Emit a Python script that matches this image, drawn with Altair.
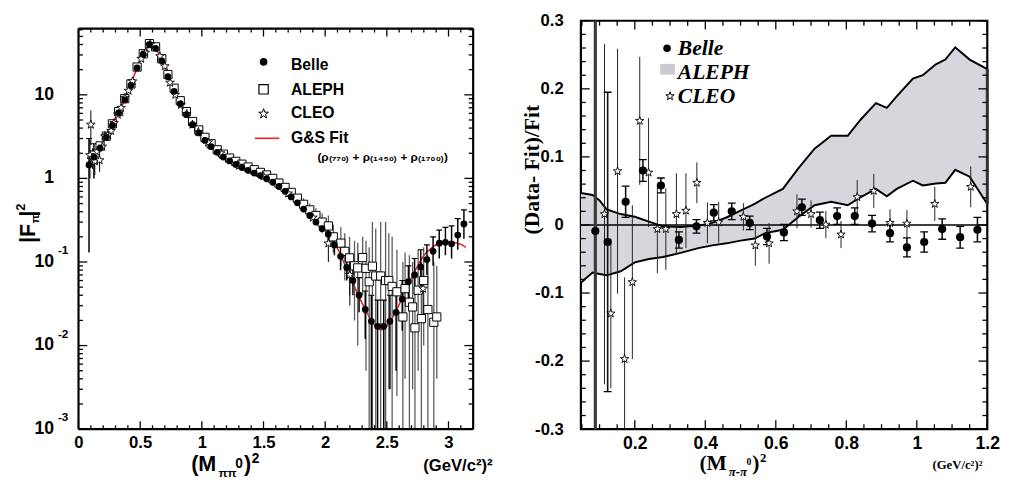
import altair as alt
import pandas as pd

SANS = "Liberation Sans"
SERIF = "Liberation Serif"
STAR = ("M0,-1L0.235,-0.324L0.951,-0.309L0.38,0.124L0.588,0.809L0,0.4"
        "L-0.588,0.809L-0.38,0.124L-0.951,-0.309L-0.235,-0.324Z")

# ======================= LEFT PANEL DATA =======================
fit_s = [0.08, 0.14, 0.20, 0.265, 0.33, 0.385, 0.42, 0.475, 0.53, 0.58,
         0.635, 0.69, 0.755, 0.83, 0.925, 1.06, 1.2, 1.33, 1.47, 1.6,
         1.735, 1.89, 2.0, 2.1, 2.21, 2.32, 2.41, 2.45, 2.48, 2.556,
         2.635, 2.714, 2.794, 2.873, 2.98, 3.05, 3.11, 3.14]
fit_v = [1.43, 2.0, 2.68, 4.0, 6.3, 9.4, 12.8, 21, 31.5, 41,
         34, 23, 12.8, 7.5, 4.4, 2.56, 1.71, 1.35, 1.10, 0.85,
         0.585, 0.34, 0.239, 0.145, 0.062, 0.028, 0.017, 0.0155, 0.016, 0.023,
         0.040, 0.071, 0.116, 0.152, 0.174, 0.17, 0.160, 0.150]

belle_s = [0.085, 0.125, 0.175, 0.225, 0.275, 0.325, 0.375, 0.425, 0.475, 0.525,
           0.575, 0.625, 0.675, 0.725, 0.775, 0.825, 0.875, 0.925, 0.975, 1.025,
           1.075, 1.125, 1.175, 1.225, 1.275, 1.325, 1.375, 1.425, 1.475, 1.525,
           1.575, 1.625, 1.675, 1.725, 1.775, 1.825, 1.875, 1.925, 1.975, 2.025,
           2.075, 2.125, 2.175, 2.225, 2.275, 2.325, 2.375, 2.425, 2.475, 2.525,
           2.575, 2.625, 2.675, 2.725, 2.775, 2.825, 2.875, 2.925, 2.975, 3.025,
           3.075, 3.125]
belle_v = [1.45, 1.8, 2.3, 3.1, 4.3, 6.1, 8.7, 13, 21, 30.5,
           40, 36, 25.5, 16.5, 11, 7.8, 5.8, 4.4, 3.5, 2.85,
           2.4, 2.05, 1.8, 1.62, 1.47, 1.35, 1.25, 1.16, 1.08, 0.99,
           0.9, 0.8, 0.7, 0.6, 0.51, 0.43, 0.36, 0.30, 0.25, 0.215,
           0.16, 0.117, 0.086, 0.06, 0.04, 0.027, 0.0195, 0.017, 0.017, 0.0195,
           0.025, 0.036, 0.058, 0.07, 0.087, 0.107, 0.134, 0.168, 0.172, 0.165,
           0.21, 0.285]

belle_err_s = [0.085, 0.125, 2.025, 2.075, 2.125, 2.175, 2.225, 2.275, 2.325, 2.375,
               2.425, 2.475, 2.525, 2.575, 2.625, 2.675, 2.725, 2.775, 2.825, 2.875,
               2.925, 2.975, 3.025, 3.075, 3.125]
belle_err_lo = [0.13, 1.0, 0.17, 0.12, 0.08, 0.06, 0.04, 0.025, 0.012, 0.001,
                0.0005, 0.0005, 0.003, 0.005, 0.015, 0.03, 0.04, 0.05, 0.07, 0.09,
                0.11, 0.12, 0.11, 0.14, 0.19]
belle_err_hi = [3.0, 2.6, 0.27, 0.2, 0.16, 0.12, 0.09, 0.065, 0.045, 0.04,
                0.035, 0.035, 0.04, 0.045, 0.06, 0.09, 0.11, 0.14, 0.16, 0.2,
                0.24, 0.26, 0.27, 0.33, 0.42]

aleph_s = [0.125, 0.175, 0.225, 0.275, 0.325, 0.375, 0.425, 0.475, 0.525, 0.575,
           0.625, 0.675, 0.725, 0.775, 0.825, 0.875, 0.925, 0.975, 1.025, 1.075,
           1.125, 1.175, 1.225, 1.275, 1.325, 1.375, 1.425, 1.475, 1.525, 1.575,
           1.625, 1.675, 1.725, 1.775, 1.825, 1.875, 1.925, 1.975,
           2.026, 2.066, 2.127, 2.159, 2.198, 2.238, 2.264, 2.304, 2.331, 2.357,
           2.383, 2.41, 2.45, 2.49, 2.516, 2.543, 2.582, 2.63, 2.648, 2.683,
           2.709, 2.728, 2.754, 2.78, 2.799, 2.833, 2.881, 2.905]
aleph_v = [1.9, 2.45, 3.2, 4.5, 6.3, 9.0, 13.5, 21.5, 31, 41,
           37.5, 27, 17.5, 12, 8.5, 6.3, 4.8, 3.8, 3.1, 2.6,
           2.2, 1.95, 1.75, 1.6, 1.48, 1.37, 1.27, 1.18, 1.1, 1.0,
           0.88, 0.78, 0.68, 0.58, 0.49, 0.42, 0.36, 0.30,
           0.27, 0.20, 0.168, 0.134, 0.112, 0.09, 0.085, 0.113, 0.084, 0.058,
           0.089, 0.068, 0.068, 0.06, 0.06, 0.051, 0.044, 0.022, 0.048, 0.033,
           0.029, 0.0163, 0.046, 0.021, 0.06, 0.027, 0.019, 0.022]

aleph_err_s = [1.825, 1.875, 1.925, 1.975,
               2.026, 2.066, 2.127, 2.159, 2.198, 2.238, 2.264, 2.304, 2.331, 2.357,
               2.383, 2.41, 2.45, 2.49, 2.516, 2.543, 2.582, 2.63, 2.648, 2.683,
               2.709, 2.728, 2.754, 2.78, 2.799, 2.833, 2.881, 2.905]
aleph_err_lo = [0.42, 0.35, 0.28, 0.22,
                0.20, 0.13, 0.09, 0.06, 0.04, 0.02, 0.01, 0.04, 0.005, 0.0005,
                0.0005, 0.0005, 0.0005, 0.0005, 0.003, 0.0005, 0.0025, 0.0005, 0.004, 0.0005,
                0.003, 0.0005, 0.005, 0.0005, 0.01, 0.0005, 0.0005, 0.004]
aleph_err_hi = [0.58, 0.5, 0.44, 0.38,
                0.36, 0.28, 0.26, 0.22, 0.20, 0.18, 0.17, 0.20, 0.18, 0.15,
                0.30, 0.25, 0.30, 0.30, 0.22, 0.20, 0.14, 0.10, 0.13, 0.12,
                0.10, 0.08, 0.14, 0.10, 0.15, 0.12, 0.10, 0.09]

cleo_s = [0.093, 0.10, 0.114, 0.132, 0.151, 0.171, 0.193, 0.214, 0.239, 0.264,
          0.288, 0.318, 0.345, 0.376, 0.406, 0.438, 0.508, 0.542, 0.581, 0.66,
          0.70, 0.742, 0.785, 0.831, 0.878, 0.924, 0.972, 1.051, 1.153, 1.3,
          1.5, 1.7, 1.9, 2.026, 2.2, 2.794]
cleo_v = [1.9, 4.4, 1.75, 1.6, 2.1, 1.65, 2.4, 3.2, 3.3, 3.7,
          4.6, 5.8, 7.0, 9.2, 11.2, 14.5, 27, 32, 40, 29,
          22, 14, 10, 7.6, 5.9, 4.4, 3.6, 2.7, 2.0, 1.42,
          1.06, 0.66, 0.34, 0.167, 0.07, 0.048]
cleo_err_s = [0.093, 0.10, 0.114, 0.132, 0.151, 0.171, 2.026, 2.2, 2.794]
cleo_err_lo = [1.0, 2.5, 1.3, 1.1, 1.6, 1.2, 0.10, 0.03, 0.02]
cleo_err_hi = [2.9, 6.5, 2.3, 2.1, 2.6, 2.1, 0.25, 0.12, 0.09]

left_xticks = [0, 0.5, 1, 1.5, 2, 2.5, 3]
left_xminor = [round(0.1 * k, 1) for k in range(33) if k % 5]
left_ydec = [10, 1, 0.1, 0.01, 0.001]
left_ybase = ["10", "1", "10", "10", "10"]
left_yexp = ["", "", "-1", "-2", "-3"]
left_yminor = [m * 10.0 ** e for e in range(-3, 2) for m in range(2, 10) if m * 10.0 ** e <= 62]

# ======================= RIGHT PANEL DATA =======================
band_s = [0.047, 0.08, 0.10, 0.12, 0.16, 0.20, 0.24, 0.28, 0.33, 0.38,
          0.42, 0.46, 0.50, 0.54, 0.57, 0.62, 0.665, 0.71, 0.757, 0.804,
          0.841, 0.884, 0.915, 0.943, 0.989, 1.017, 1.054, 1.081, 1.109, 1.15, 1.2]
band_up = [0.047, 0.044, 0.036, 0.023, 0.016, 0.012, 0.005, -0.002, -0.003, -0.001,
           0.003, 0.011, 0.021, 0.031, 0.040, 0.053, 0.084, 0.112, 0.131, 0.131,
           0.155, 0.179, 0.172, 0.189, 0.215, 0.220, 0.236, 0.243, 0.261, 0.243, 0.229]
band_lo = [-0.085, -0.070, -0.072, -0.074, -0.068, -0.055, -0.050, -0.047, -0.041, -0.034,
           -0.030, -0.027, -0.023, -0.020, -0.012, -0.007, 0.012, 0.029, 0.034, 0.029,
           0.041, 0.053, 0.042, 0.053, 0.065, 0.058, 0.061, 0.062, 0.081, 0.071, 0.031]

belle_r_s = [0.088, 0.123, 0.174, 0.223, 0.274, 0.325, 0.375, 0.424, 0.475, 0.526,
             0.575, 0.623, 0.674, 0.725, 0.774, 0.824, 0.873, 0.924, 0.972, 1.021,
             1.072, 1.123, 1.172]
belle_r_v = [-0.009, -0.025, 0.034, 0.080, 0.058, -0.022, -0.002, 0.018, 0.020, 0.003,
             -0.017, -0.011, 0.026, 0.007, 0.013, 0.013, 0.002, -0.012, -0.033, -0.025,
             -0.006, -0.018, -0.007]
belle_r_e = [0.6, 0.22, 0.023, 0.016, 0.011, 0.012, 0.010, 0.012, 0.012, 0.010,
             0.012, 0.012, 0.012, 0.012, 0.012, 0.012, 0.012, 0.013, 0.014, 0.015,
             0.015, 0.016, 0.018]

cleo_r_s = [0.114, 0.132, 0.151, 0.171, 0.193, 0.214, 0.239, 0.264, 0.288, 0.318,
            0.345, 0.376, 0.406, 0.438, 0.508, 0.542, 0.581, 0.66, 0.70, 0.742,
            0.785, 0.831, 0.878, 0.924, 0.972, 1.051, 1.153]
cleo_r_v = [0.016, -0.130, 0.079, -0.197, -0.084, 0.153, 0.077, -0.006, -0.006, 0.016,
            0.021, 0.062, 0.003, 0.004, 0.012, -0.030, -0.027, 0.020, 0.016, 0.0005,
            -0.014, 0.041, 0.050, 0.003, 0.002, 0.031, 0.056]
cleo_r_e = [0.25, 0.11, 0.18, 0.12, 0.113, 0.094, 0.08, 0.065, 0.06, 0.06,
            0.055, 0.03, 0.03, 0.03, 0.02, 0.03, 0.03, 0.025, 0.02, 0.02,
            0.02, 0.025, 0.025, 0.02, 0.02, 0.025, 0.03]

right_xticks = [0.2, 0.4, 0.6, 0.8, 1.0, 1.2]
right_xminor = [round(0.05 * k, 2) for k in range(1, 25) if k % 4 and 0.05 * k >= 0.047]
right_yticks = [-0.3, -0.2, -0.1, 0, 0.1, 0.2, 0.3]
right_yminor = [round(-0.3 + 0.02 * k, 2) for k in range(31) if k % 5]

# ======================= helpers =======================
W1, H1 = 403, 417
W2, H2 = 415, 417
OFF = 8           # left frame starts 8px below the shared top
ONE = pd.DataFrame({"a": [0]})


def txt(text, x, y, size, font=SANS, weight="bold", style="normal", align="left",
        baseline="alphabetic", angle=0, color="black"):
    return alt.Chart(ONE).mark_text(
        text=text, font=font, fontSize=size, fontWeight=weight, fontStyle=style,
        align=align, baseline=baseline, angle=angle, color=color
    ).encode(x=alt.value(x), y=alt.value(y))


def prule(x1, x2, y1, y2, w=2.2):
    return alt.Chart(ONE).mark_rule(color="black", strokeWidth=w).encode(
        x=alt.value(x1), x2=alt.value(x2), y=alt.value(y1), y2=alt.value(y2))


LBL = "replace(format(datum.value, '.1~f'), '\u2212', '-')"

# ======================= LEFT PANEL =======================
xs1 = alt.Scale(domain=[0, 3.2], nice=False, zero=False)
ys1 = alt.Scale(type="log", domain=[0.001, 76.9], nice=False)
xax1 = alt.Axis(values=left_xticks, labelExpr=LBL, labelFont=SANS, labelFontSize=17,
                labelFontWeight="bold", labelColor="black", ticks=False, domain=False,
                grid=False, labelPadding=6, title=None, labelFlush=False)

df_fit = pd.DataFrame({"s": fit_s, "v": fit_v})
df_belle = pd.DataFrame({"s": belle_s, "v": belle_v})
df_belle_e = pd.DataFrame({"s": belle_err_s, "lo": belle_err_lo, "hi": belle_err_hi})
df_aleph = pd.DataFrame({"s": aleph_s, "v": aleph_v})
df_aleph_e = pd.DataFrame({"s": aleph_err_s, "lo": aleph_err_lo, "hi": aleph_err_hi})
df_cleo = pd.DataFrame({"s": cleo_s, "v": cleo_v})
df_cleo_e = pd.DataFrame({"s": cleo_err_s, "lo": cleo_err_lo, "hi": cleo_err_hi})


def X1(f="s"):
    return alt.X(f, type="quantitative", scale=xs1, axis=xax1)


def Y1(f):
    return alt.Y(f, type="quantitative", scale=ys1, axis=None)


fit_line = alt.Chart(df_fit).mark_line(color="#ee2020", strokeWidth=1.6,
                                       interpolate="monotone", clip=True).encode(
    x=X1("s"), y=Y1("v"))
aleph_err = alt.Chart(df_aleph_e).mark_rule(color="#5a5a5a", strokeWidth=1.3, clip=True).encode(
    x=X1(), y=Y1("lo"), y2="hi")
cleo_err = alt.Chart(df_cleo_e).mark_rule(color="black", strokeWidth=1, clip=True).encode(
    x=X1(), y=Y1("lo"), y2="hi")
belle_err = alt.Chart(df_belle_e).mark_rule(color="black", strokeWidth=1.5, clip=True).encode(
    x=X1(), y=Y1("lo"), y2="hi")
belle_cap = alt.Chart(df_belle_e).mark_rule(color="black", strokeWidth=1.2, clip=True,
                                            xOffset=-3, x2Offset=3).encode(
    x=X1(), x2="s", y=Y1("hi"), y2="hi")
aleph_pts = alt.Chart(df_aleph).mark_point(shape="square", size=70, filled=True, fill="white",
                                           stroke="black", strokeWidth=1, opacity=1).encode(
    x=X1(), y=Y1("v"))
cleo_pts = alt.Chart(df_cleo).mark_point(shape=STAR, size=85, filled=True, fill="white",
                                         stroke="black", strokeWidth=0.9, opacity=1).encode(
    x=X1(), y=Y1("v"))
belle_pts = alt.Chart(df_belle).mark_circle(size=48, color="black", opacity=1).encode(
    x=X1(), y=Y1("v"))

df_lx = pd.DataFrame({"t": left_xticks})
df_lxm = pd.DataFrame({"t": left_xminor})
df_ly = pd.DataFrame({"t": left_ydec})
df_lym = pd.DataFrame({"t": left_yminor})
lticks = []
for d, ln in ((df_lx, 8), (df_lxm, 4)):
    lticks.append(alt.Chart(d).mark_rule(color="black", strokeWidth=1.3).encode(
        x=X1("t"), y=alt.value(H1), y2=alt.value(H1 - ln)))
    lticks.append(alt.Chart(d).mark_rule(color="black", strokeWidth=1.3).encode(
        x=X1("t"), y=alt.value(OFF), y2=alt.value(OFF + ln)))
for d, ln in ((df_ly, 9), (df_lym, 4.5)):
    lticks.append(alt.Chart(d).mark_rule(color="black", strokeWidth=1.3).encode(
        y=Y1("t"), x=alt.value(0), x2=alt.value(ln)))
    lticks.append(alt.Chart(d).mark_rule(color="black", strokeWidth=1.3).encode(
        y=Y1("t"), x=alt.value(W1), x2=alt.value(W1 - ln)))

lframe = [prule(0, W1, OFF, OFF), prule(0, W1, H1, H1),
          prule(0, 0, OFF, H1), prule(W1, W1, OFF, H1)]

df_ylab = pd.DataFrame({"t": left_ydec, "base": left_ybase, "exp": left_yexp})
ylab_base = alt.Chart(df_ylab).mark_text(align="right", baseline="middle", font=SANS,
                                         fontSize=18, fontWeight="bold", color="black").encode(
    y=Y1("t"), x=alt.value(-25), text="base")
ylab_exp = alt.Chart(df_ylab).mark_text(align="left", baseline="middle", font=SANS,
                                        fontSize=12, fontWeight="bold", color="black", dy=-12).encode(
    y=Y1("t"), x=alt.value(-21), text="exp")

left_text = [
    txt("|F", -51, 219 + OFF, 22, angle=270, baseline="middle"),
    txt("\u03c0", -44, 199 + OFF, 12, angle=270, baseline="middle"),
    txt("|", -51, 192 + OFF, 22, angle=270, baseline="middle"),
    txt("2", -59, 186 + OFF, 13, angle=270, baseline="middle"),
    txt("(M", 115, 460, 22),
    txt("\u03c0\u03c0", 143, 466, 12),
    txt("0", 160, 457, 14),
    txt(")", 169, 460, 22),
    txt("2", 177, 452, 14),
    txt("(GeV/c\u00b2)\u00b2", 352, 460, 17),
    txt("Belle", 217, 37 + OFF, 16, baseline="middle"),
    txt("ALEPH", 217, 63 + OFF, 16, baseline="middle"),
    txt("CLEO", 217, 86 + OFF, 16, baseline="middle"),
    txt("G&S Fit", 217, 112 + OFF, 16, baseline="middle"),
    txt("(\u03c1\u208d\u2087\u2087\u2080\u208e + \u03c1\u208d\u2081\u2084\u2085\u2080\u208e + \u03c1\u208d\u2081\u2087\u2080\u2080\u208e)",
        244, 131 + OFF, 12, baseline="middle"),
]
leg_dot = alt.Chart(ONE).mark_circle(size=60, color="black", opacity=1).encode(
    x=alt.value(189), y=alt.value(34 + OFF))
leg_sq = alt.Chart(ONE).mark_point(shape="square", size=90, filled=True, fill="white",
                                   stroke="black", strokeWidth=1.2, opacity=1).encode(
    x=alt.value(189), y=alt.value(62 + OFF))
leg_star = alt.Chart(ONE).mark_point(shape=STAR, size=110, filled=True, fill="white",
                                     stroke="black", strokeWidth=1, opacity=1).encode(
    x=alt.value(189), y=alt.value(87 + OFF))
leg_line = alt.Chart(ONE).mark_rule(color="#ee2020", strokeWidth=1.6).encode(
    x=alt.value(180), x2=alt.value(205), y=alt.value(112 + OFF))

left = alt.layer(
    fit_line, aleph_err, cleo_err, belle_err, belle_cap, aleph_pts, cleo_pts,
    belle_pts, *lticks, *lframe, ylab_base, ylab_exp, *left_text,
    leg_dot, leg_sq, leg_star, leg_line
).properties(width=W1, height=H1, view=alt.ViewBackground(stroke="transparent"))

# ======================= RIGHT PANEL =======================
xs2 = alt.Scale(domain=[0.047, 1.2], nice=False, zero=False)
ys2 = alt.Scale(domain=[-0.3, 0.3], nice=False, zero=False)
xax2 = alt.Axis(values=right_xticks, labelExpr=LBL, labelFont=SANS, labelFontSize=18,
                labelFontWeight="bold", labelColor="black", ticks=False, domain=False,
                grid=False, labelPadding=6, title=None, labelFlush=False)
yax2 = alt.Axis(values=right_yticks, labelExpr=LBL, labelFont=SANS, labelFontSize=17,
                labelFontWeight="bold", labelColor="black", ticks=False, domain=False,
                grid=False, labelPadding=18, title=None, labelFlush=False)


def X2(f="s"):
    return alt.X(f, type="quantitative", scale=xs2, axis=xax2)


def Y2(f):
    return alt.Y(f, type="quantitative", scale=ys2, axis=yax2)


df_band = pd.DataFrame({"s": band_s, "up": band_up, "lo": band_lo})
df_band_end = pd.DataFrame({"s": band_s[-1:], "up": band_up[-1:], "lo": band_lo[-1:]})
df_br = pd.DataFrame({"s": belle_r_s, "v": belle_r_v,
                      "lo": [v - e for v, e in zip(belle_r_v, belle_r_e)],
                      "hi": [v + e for v, e in zip(belle_r_v, belle_r_e)]})
df_br_first = df_br.head(1)
df_cr = pd.DataFrame({"s": cleo_r_s, "v": cleo_r_v,
                      "lo": [v - e for v, e in zip(cleo_r_v, cleo_r_e)],
                      "hi": [v + e for v, e in zip(cleo_r_v, cleo_r_e)]})
df_zero = pd.DataFrame({"z": [0]})

band = alt.Chart(df_band).mark_area(color="#d5d7dd", opacity=1, clip=True).encode(
    x=X2("s"), y=Y2("lo"), y2="up")
band_up_l = alt.Chart(df_band).mark_line(color="black", strokeWidth=2, clip=True).encode(
    x=X2(), y=Y2("up"))
band_lo_l = alt.Chart(df_band).mark_line(color="black", strokeWidth=2, clip=True).encode(
    x=X2(), y=Y2("lo"))
band_end = alt.Chart(df_band_end).mark_rule(color="#333333", strokeWidth=3).encode(
    x=X2(), y=Y2("lo"), y2="up")
zero = alt.Chart(df_zero).mark_rule(color="black", strokeWidth=1.6).encode(y=Y2("z"))
cr_err = alt.Chart(df_cr).mark_rule(color="#222222", strokeWidth=1, clip=True).encode(
    x=X2(), y=Y2("lo"), y2="hi")
br_err = alt.Chart(df_br).mark_rule(color="#111111", strokeWidth=1.6, clip=True).encode(
    x=X2(), y=Y2("lo"), y2="hi")
br_err_first = alt.Chart(df_br_first).mark_rule(color="#3a3a3a", strokeWidth=3.2, clip=True).encode(
    x=X2(), y=Y2("lo"), y2="hi")
br_cap_hi = alt.Chart(df_br).mark_rule(color="black", strokeWidth=1.3, clip=True,
                                       xOffset=-4, x2Offset=4).encode(
    x=X2(), x2="s", y=Y2("hi"), y2="hi")
br_cap_lo = alt.Chart(df_br).mark_rule(color="black", strokeWidth=1.3, clip=True,
                                       xOffset=-4, x2Offset=4).encode(
    x=X2(), x2="s", y=Y2("lo"), y2="lo")
cr_pts = alt.Chart(df_cr).mark_point(shape=STAR, size=80, filled=True, fill="white",
                                     stroke="black", strokeWidth=0.9, opacity=1, clip=True).encode(
    x=X2(), y=Y2("v"))
br_pts = alt.Chart(df_br).mark_circle(size=70, color="black", opacity=1, clip=True).encode(
    x=X2(), y=Y2("v"))

df_rx = pd.DataFrame({"t": right_xticks})
df_rxm = pd.DataFrame({"t": right_xminor})
df_ry = pd.DataFrame({"t": right_yticks})
df_rym = pd.DataFrame({"t": right_yminor})
rticks = []
for d, ln in ((df_rx, 9), (df_rxm, 5)):
    rticks.append(alt.Chart(d).mark_rule(color="black", strokeWidth=1.3).encode(
        x=X2("t"), y=alt.value(H2), y2=alt.value(H2 - ln)))
    rticks.append(alt.Chart(d).mark_rule(color="black", strokeWidth=1.3).encode(
        x=X2("t"), y=alt.value(0), y2=alt.value(ln)))
for d, ln in ((df_ry, 9), (df_rym, 5)):
    rticks.append(alt.Chart(d).mark_rule(color="black", strokeWidth=1.3).encode(
        y=Y2("t"), x=alt.value(0), x2=alt.value(ln)))
    rticks.append(alt.Chart(d).mark_rule(color="black", strokeWidth=1.3).encode(
        y=Y2("t"), x=alt.value(W2), x2=alt.value(W2 - ln)))

right_text = [
    txt("(Data- Fit)/Fit", -50, 152, 22, font=SERIF, angle=270, align="center",
        baseline="middle"),
    txt("(M", 121, 459, 22, font=SERIF),
    txt("\u03c0-\u03c0", 151, 465, 13, font=SERIF, style="italic"),
    txt("0", 169, 454, 10, font=SERIF),
    txt(")", 175, 459, 22, font=SERIF),
    txt("2", 183, 451, 13, font=SERIF),
    txt("(GeV/c\u00b2)\u00b2", 359, 458, 13, font=SERIF),
    txt("Belle", 99, 28, 22, font=SERIF, style="italic", baseline="middle"),
    txt("ALEPH", 99, 52, 22, font=SERIF, style="italic", baseline="middle"),
    txt("CLEO", 99, 77, 22, font=SERIF, style="italic", baseline="middle"),
]
rleg_dot = alt.Chart(ONE).mark_circle(size=60, color="black", opacity=1).encode(
    x=alt.value(88), y=alt.value(28))
rleg_rect = alt.Chart(ONE).mark_rect(color="#c9cbd1", opacity=1).encode(
    x=alt.value(81), x2=alt.value(96), y=alt.value(44), y2=alt.value(55))
rleg_star = alt.Chart(ONE).mark_point(shape=STAR, size=80, filled=True, fill="white",
                                      stroke="black", strokeWidth=1, opacity=1).encode(
    x=alt.value(91), y=alt.value(77))

right = alt.layer(
    band, band_up_l, band_lo_l, band_end, zero, cr_err, br_err, br_err_first,
    br_cap_hi, br_cap_lo, cr_pts, br_pts, *rticks, *right_text,
    rleg_dot, rleg_rect, rleg_star
).properties(width=W2, height=H2)

chart = alt.hconcat(left, right, spacing=26).properties(
    padding={"left": 5, "top": -3, "right": 0, "bottom": 0}
).configure_view(stroke="black", strokeWidth=2.2)

chart.save("out.html", embed_options={"renderer": "svg", "actions": False})
